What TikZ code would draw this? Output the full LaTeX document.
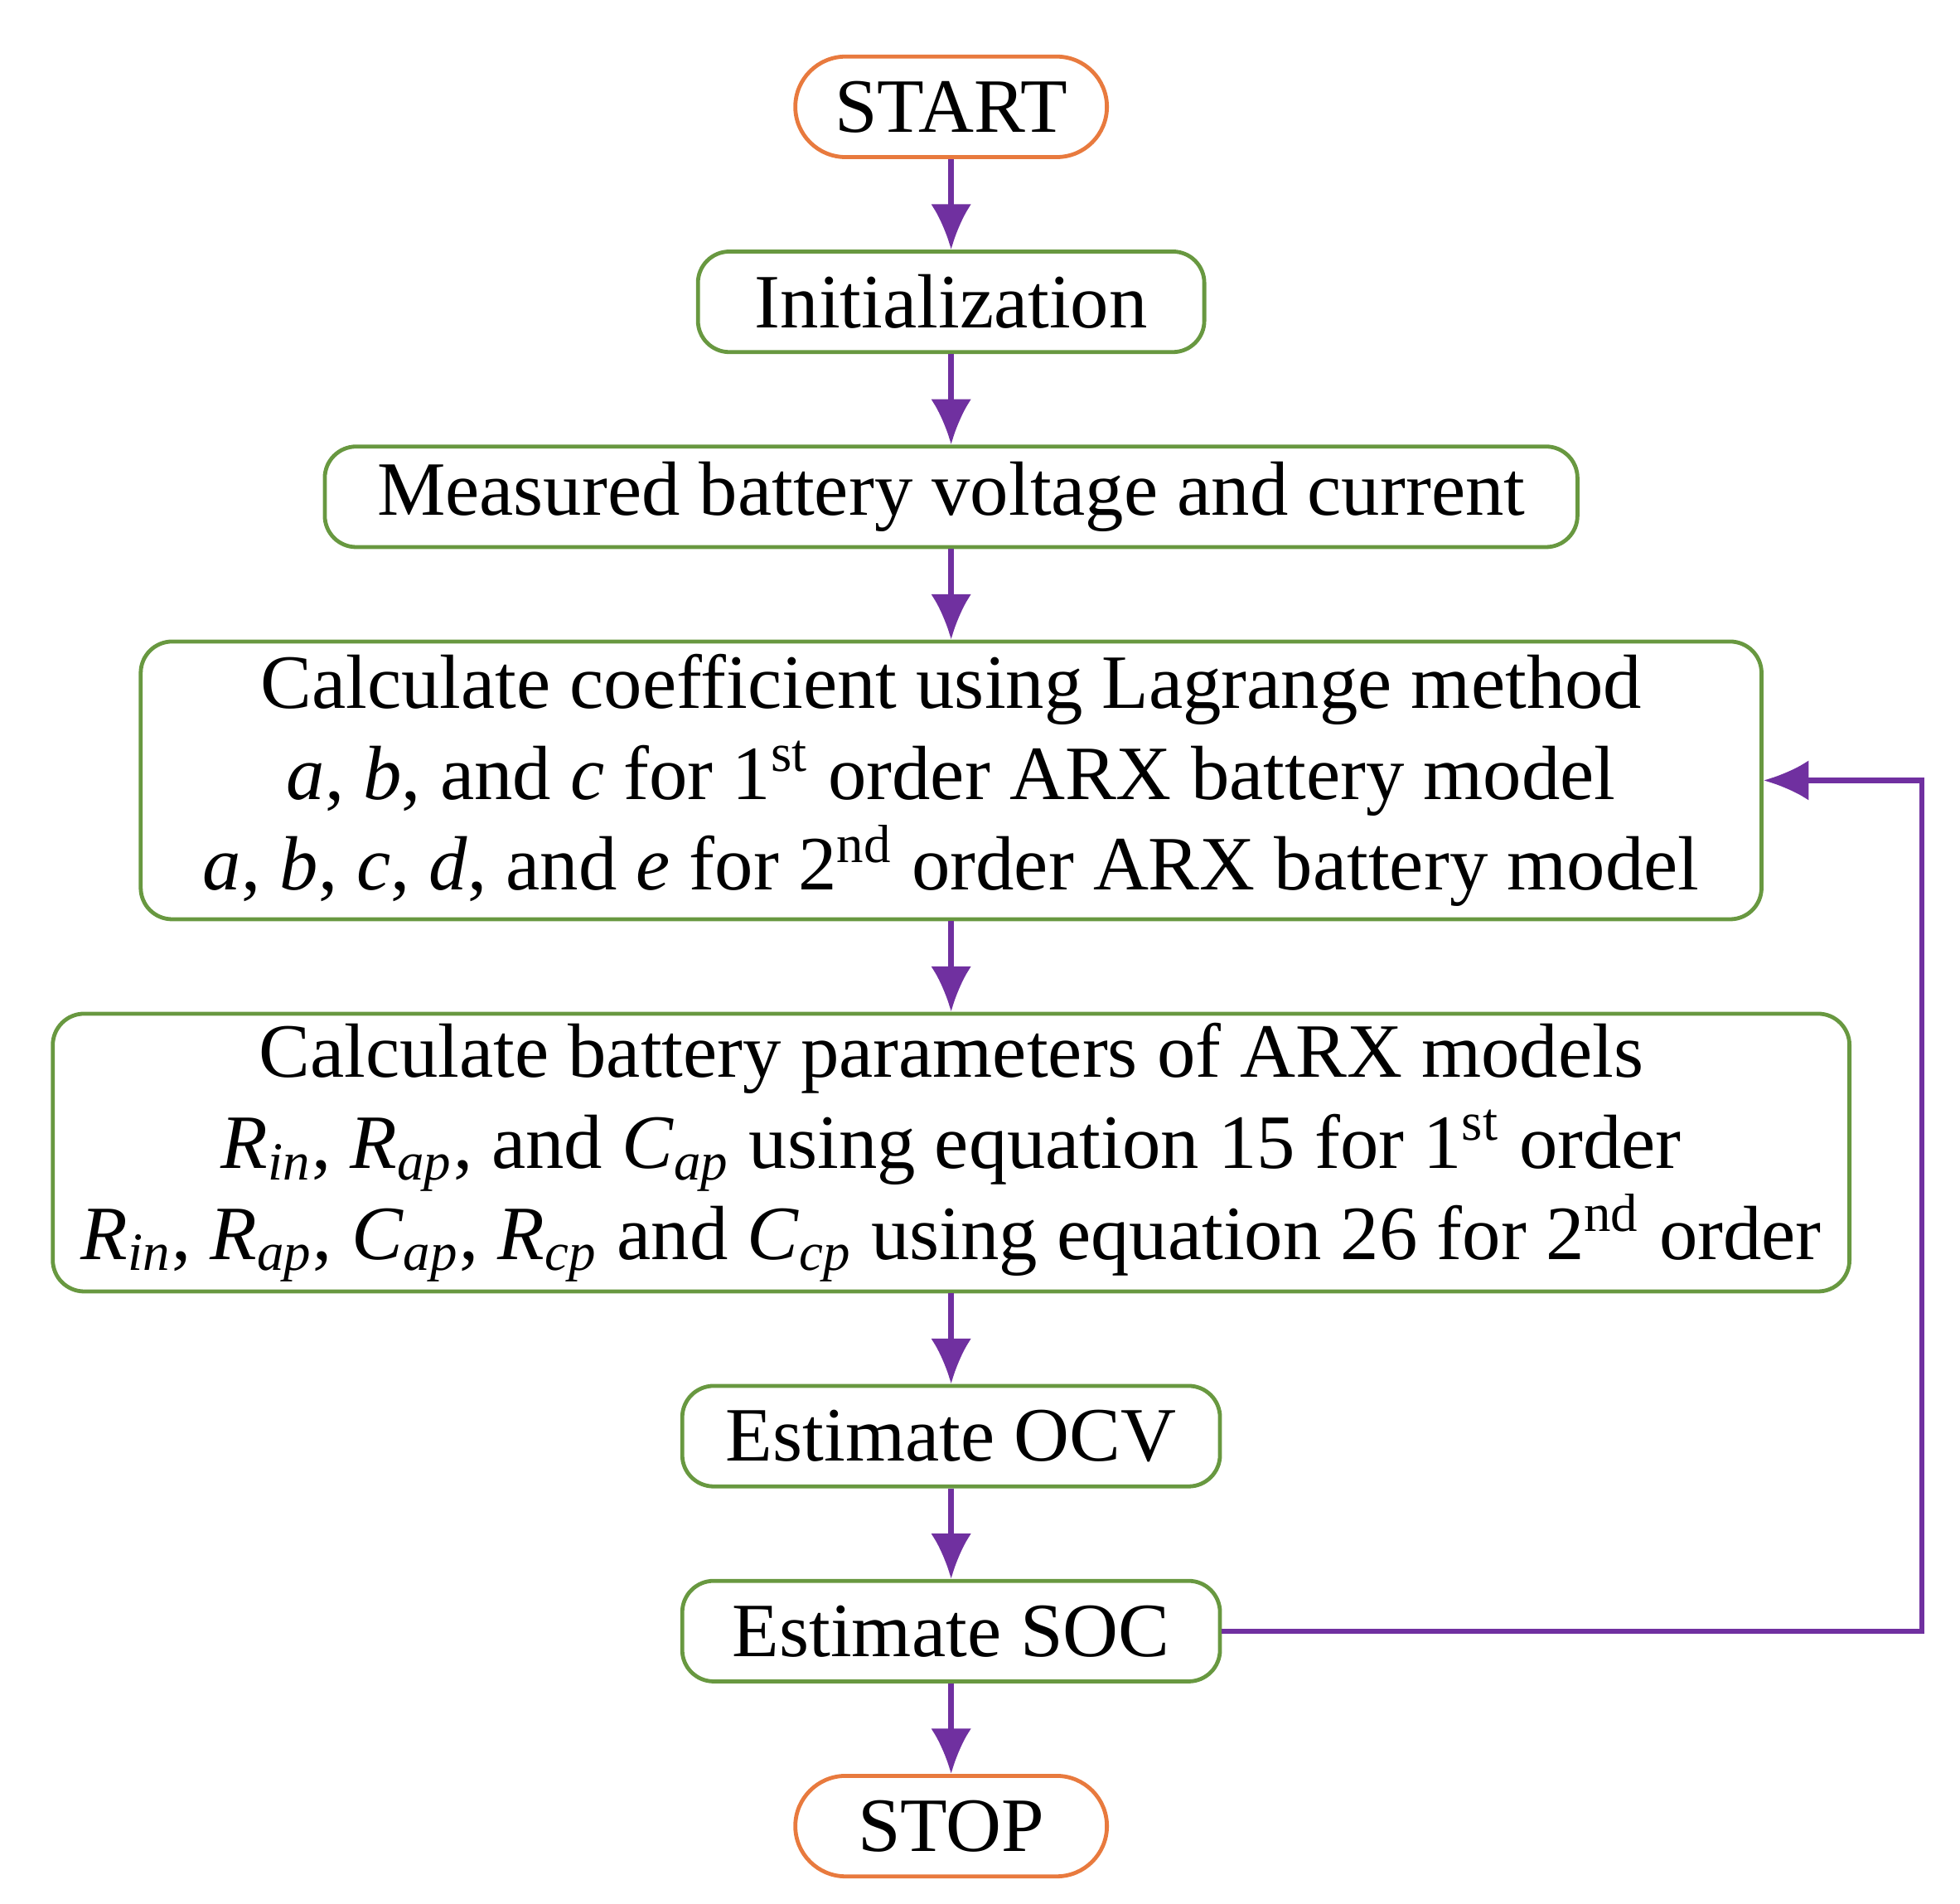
\documentclass[tikz,border=0pt]{standalone}
\usepackage{fontspec}
\setmainfont{Liberation Serif}
\usetikzlibrary{positioning,arrows.meta}
\definecolor{boxgreen}{RGB}{104,152,64}
\definecolor{termorange}{RGB}{232,122,62}
\definecolor{flowpurple}{RGB}{112,48,160}
\tikzstyle{terminal} = [draw=termorange,
						line width=0.9pt,
						rounded corners=0.4cm,
						minimum width=2.48cm,
						minimum height=0.8cm,
						inner sep=0pt,
						align=center]
\tikzstyle{process} = [draw=boxgreen,
					line width=0.9pt,
					rounded corners=0.25cm,
					minimum height=0.8cm,
					inner sep=0pt,
					align=center]
\tikzstyle{flow} = [draw=flowpurple,
					line width=1.2pt,
					-{Latex[length=3.6mm,width=3.2mm]}]
\newcommand{\sym}[2]{\textit{#1}\textsubscript{\textit{#2}}}
\begin{document}
\begin{tikzpicture}[node distance=0.72cm, font=\fontsize{17.4}{20.6}\selectfont]
    \useasboundingbox (0,0) rectangle (15.6,-15.15);

    \node[terminal] at (7.57,-0.85) (start) {START};
    \node[process, below=of start, minimum width=4.03cm] (init) {Initialization};
    \node[process, below=of init, minimum width=9.97cm] (meas) {Measured battery voltage and current};
    \node[process, below=of meas, minimum width=12.9cm, minimum height=2.21cm] (coef) {Calculate coefficient using Lagrange method\\
        \textit{a}, \textit{b}, and \textit{c} for 1\textsuperscript{st} order ARX battery model\\
        \textit{a}, \textit{b}, \textit{c}, \textit{d}, and \textit{e} for 2\textsuperscript{nd} order ARX battery model};
    \node[process, below=of coef, minimum width=14.3cm, minimum height=2.21cm] (param) {Calculate battery parameters of ARX models\\
        \sym{R}{in}, \sym{R}{ap}, and \sym{C}{ap} using equation 15 for 1\textsuperscript{st} order\\
        \sym{R}{in}, \sym{R}{ap}, \sym{C}{ap}, \sym{R}{cp} and \sym{C}{cp} using equation 26 for 2\textsuperscript{nd} order};
    \node[process, below=of param, minimum width=4.28cm] (ocv) {Estimate OCV};
    \node[process, below=of ocv, minimum width=4.28cm] (soc) {Estimate SOC};
    \node[terminal, below=of soc] (stop) {STOP};

    % main flow
    \draw[flow] (start) -- (init);
    \draw[flow] (init) -- (meas);
    \draw[flow] (meas) -- (coef);
    \draw[flow] (coef) -- (param);
    \draw[flow] (param) -- (ocv);
    \draw[flow] (ocv) -- (soc);
    \draw[flow] (soc) -- (stop);

    % loop back
    \draw[flow] (soc.east) -- ++(5.57,0) |- (coef.east);
\end{tikzpicture}
\end{document}
